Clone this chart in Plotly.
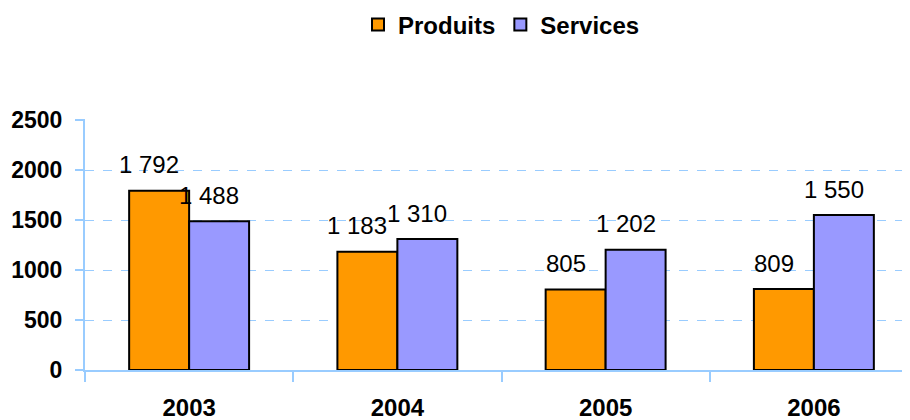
import plotly.graph_objects as go

years = ["2003", "2004", "2005", "2006"]
produits = [1792, 1183, 805, 809]
services = [1488, 1310, 1202, 1550]
series_names = ["Produits", "Services"]
colors = ["#FF9900", "#9999FF"]
y_ticks = [0, 500, 1000, 1500, 2000, 2500]

FONT = "Liberation Sans, Arial, sans-serif"
bargap = 0.424

fig = go.Figure()
for name, vals, col in zip(series_names, [produits, services], colors):
    fig.add_trace(go.Bar(
        name=name, x=years, y=vals,
        marker=dict(color=col, line=dict(color="black", width=2)),
    ))

def fmt(v):
    return f"{v:,}".replace(",", " ")

barw = (1 - bargap) / 2
annotations = []
for k, vals in enumerate([produits, services]):
    for i, v in enumerate(vals):
        annotations.append(dict(
            x=i + (k - 0.5) * barw, y=v, xref="x", yref="y",
            text=fmt(v), showarrow=False, xanchor="center", yanchor="middle",
            xshift=-10, yshift=26,
            font=dict(family=FONT, size=24, color="black"),
        ))

fig.update_layout(
    width=910, height=420,
    margin=dict(l=77, r=0, t=111, b=58, autoexpand=False),
    paper_bgcolor="white", plot_bgcolor="white",
    barmode="group", bargap=bargap, bargroupgap=0,
    font=dict(family=FONT, color="black"),
    showlegend=True,
    legend=dict(orientation="h", x=0.5, xanchor="center",
                yref="container", y=0.9595, yanchor="middle",
                font=dict(family=FONT, size=24, color="black", weight="bold"),
                traceorder="normal"),
    annotations=annotations,
)
fig.update_xaxes(
    type="category", range=[-0.5, 3.5],
    showline=True, linecolor="#99CCFF", linewidth=2,
    ticks="outside", tickson="boundaries", ticklen=10, tickwidth=2, tickcolor="#99CCFF",
    tickfont=dict(family=FONT, size=24, color="black", weight="bold"),
    ticklabelstandoff=15,
    showgrid=False,
)
fig.update_yaxes(
    range=[0, 2510], tickvals=y_ticks,
    showline=True, linecolor="#99CCFF", linewidth=2,
    ticks="outside", ticklen=8, tickwidth=2, tickcolor="#99CCFF",
    tickfont=dict(family=FONT, size=23, color="black", weight="bold"),
    ticklabelstandoff=8,
    showgrid=True, gridcolor="#99CCFF", gridwidth=1, griddash="dash",
    zeroline=False,
)

fig.write_html("out.html")
